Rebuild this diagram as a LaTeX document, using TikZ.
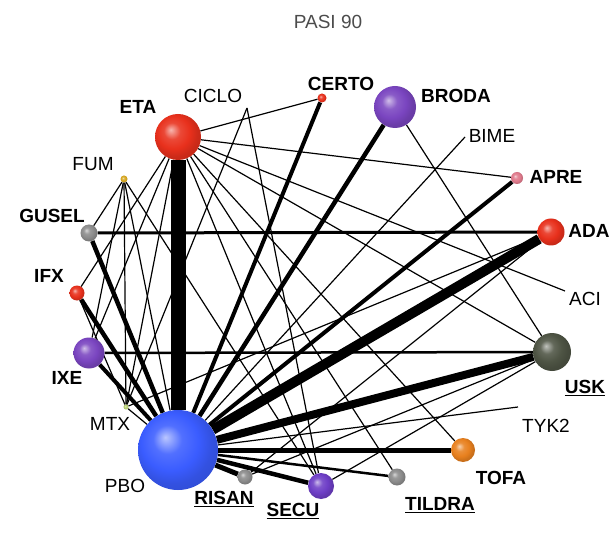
\documentclass[tikz,border=0pt]{standalone}
\usepackage{fontspec}
\setmainfont{Liberation Sans}
\usetikzlibrary{backgrounds}
\definecolor{cred}{HTML}{E8301C}
\definecolor{cpurple}{HTML}{7A45C0}
\definecolor{cpink}{HTML}{E07A8C}
\definecolor{cgray}{HTML}{8C8C8C}
\definecolor{colive}{HTML}{4E5444}
\definecolor{corange}{HTML}{E8801E}
\definecolor{cblue}{HTML}{3A5CFF}
\definecolor{cyel}{HTML}{D8A820}
\definecolor{cgreen}{HTML}{B8D070}
\makeatletter
\pgfdeclareradialshading[tikz@ball]{softball}{\pgfqpoint{-8bp}{8bp}}{%
 color(0bp)=(tikz@ball!35!white); color(9bp)=(tikz@ball!88!white);
 color(18bp)=(tikz@ball); color(25bp)=(tikz@ball!88!black);
 color(50bp)=(tikz@ball!70!black)}
\makeatother
\begin{document}
\begin{tikzpicture}[x=1pt,y=-1pt,
  ball/.style 2 args={circle,inner sep=0pt,minimum size=#1pt,ball color=#2,shading=softball},
  lbl/.style={inner sep=0pt,font=\fontsize{19}{21}\selectfont},
  blbl/.style={inner sep=0pt,font=\fontsize{19}{21}\selectfont\bfseries},
  lw/.style={line width=#1pt,draw=black},
  tl/.style={line width=1.2pt,draw=black}]
\useasboundingbox (0,0) rectangle (610,553);

% title
\node[lbl,text=black!70] (title) at (328,22) {PASI 90};

% treatment nodes
\node[ball={46}{cred}] (ETA) at (178,137) {};
\node[ball={9}{cred}] (CERTO) at (322,98) {};
\node[ball={42}{cpurple}] (BRODA) at (395,107) {};
\node[ball={12}{cpink}] (APRE) at (517,178) {};
\node[ball={27}{cred}] (ADA) at (551,232) {};
\node[ball={38}{colive}] (USK) at (552,352) {};
\node[ball={24}{corange}] (TOFA) at (463,450) {};
\node[ball={17}{cgray}] (TILDRA) at (397,477) {};
\node[ball={26}{cpurple!90!blue}] (SECU) at (321,486) {};
\node[ball={15}{cgray}] (RISAN) at (245,477) {};
\node[ball={80}{cblue}] (PBO) at (178,450) {};
\node[ball={5}{cgreen}] (MTX) at (126,407) {};
\node[ball={31}{cpurple}] (IXE) at (89,353) {};
\node[ball={15}{cred}] (IFX) at (77,293) {};
\node[ball={17}{cgray}] (GUSEL) at (89,233) {};
\node[ball={7}{cyel}] (FUM) at (124,179) {};
\coordinate (CICLO) at (247,108);
\coordinate (BIME) at (465,137);
\coordinate (ACI) at (565,291);
\coordinate (TYK2) at (518,407);

% labels
\node[blbl] (lETA) at (138,107) {ETA};
\node[lbl] (lCICLO) at (213,96) {CICLO};
\node[blbl] (lCERTO) at (341,84) {CERTO};
\node[blbl] (lBRODA) at (456,96) {BRODA};
\node[lbl] (lBIME) at (492,136) {BIME};
\node[blbl] (lAPRE) at (556,177) {APRE};
\node[blbl] (lADA) at (589,231) {ADA};
\node[lbl] (lACI) at (585,299) {ACI};
\node[blbl] (lUSK) at (585,388) {\underline{USK}};
\node[lbl] (lTYK2) at (546,426) {TYK2};
\node[blbl] (lTOFA) at (501,478) {TOFA};
\node[blbl] (lTILDRA) at (440,505) {\underline{TILDRA}};
\node[blbl] (lSECU) at (293,511) {\underline{SECU}};
\node[blbl] (lRISAN) at (224,499) {\underline{RISAN}};
\node[lbl] (lPBO) at (125,486) {PBO};
\node[lbl] (lMTX) at (110,424) {MTX};
\node[blbl] (lIXE) at (67,378) {IXE};
\node[blbl] (lIFX) at (49,276) {IFX};
\node[blbl] (lGUSEL) at (52,216) {GUSEL};
\node[lbl] (lFUM) at (93,164) {FUM};

\begin{scope}[on background layer]
\fill[white] (0,0) rectangle (610,553);
% thin comparisons
\draw[tl] (ETA) -- (CERTO);
\draw[tl] (ETA) -- (APRE);
\draw[tl] (ETA) -- (ACI);
\draw[tl] (ETA) -- (USK);
\draw[tl] (ETA) -- (TOFA);
\draw[tl] (ETA) -- (TILDRA);
\draw[tl] (ETA) -- (SECU);
\draw[tl] (ETA) -- (IXE);
\draw[tl] (ETA) -- (IFX);
\draw[tl] (ETA) -- (MTX);
\draw[tl] (BRODA) -- (USK);
\draw[tl] (ADA) -- (MTX);
\draw[tl] (ADA) -- (RISAN);
\draw[tl] (USK) -- (RISAN);
\draw[tl] (USK) -- (SECU);
\draw[tl] (FUM) -- (MTX);
\draw[tl] (FUM) -- (GUSEL);
\draw[tl] (FUM) -- (IXE);
\draw[tl] (FUM) -- (SECU);
\draw[tl] (FUM) -- (PBO);
\draw[tl] (CICLO) -- (MTX);
\draw[tl] (CICLO) -- (SECU);
\draw[tl] (IFX) -- (MTX);
\draw[tl] (PBO) -- (MTX);
\draw[tl] (PBO) -- (BIME);
\draw[tl] (PBO) -- (TYK2);
% thicker comparisons
\draw[lw=3] (GUSEL) -- (ADA);
\draw[lw=2.5] (IXE) -- (USK);
\draw[lw=15] (PBO) -- (ETA);
\draw[lw=10] (PBO) -- (ADA);
\draw[lw=8] (PBO) -- (USK);
\draw[lw=4] (PBO) -- (CERTO);
\draw[lw=4.5] (PBO) -- (BRODA);
\draw[lw=4] (PBO) -- (APRE);
\draw[lw=5] (PBO) -- (TOFA);
\draw[lw=4.5] (PBO) -- (SECU);
\draw[lw=5] (PBO) -- (RISAN);
\draw[lw=2.5] (PBO) -- (TILDRA);
\draw[lw=4] (PBO) -- (IXE);
\draw[lw=4.5] (PBO) -- (IFX);
\draw[lw=4.5] (PBO) -- (GUSEL);
\end{scope}
\end{tikzpicture}
\end{document}
